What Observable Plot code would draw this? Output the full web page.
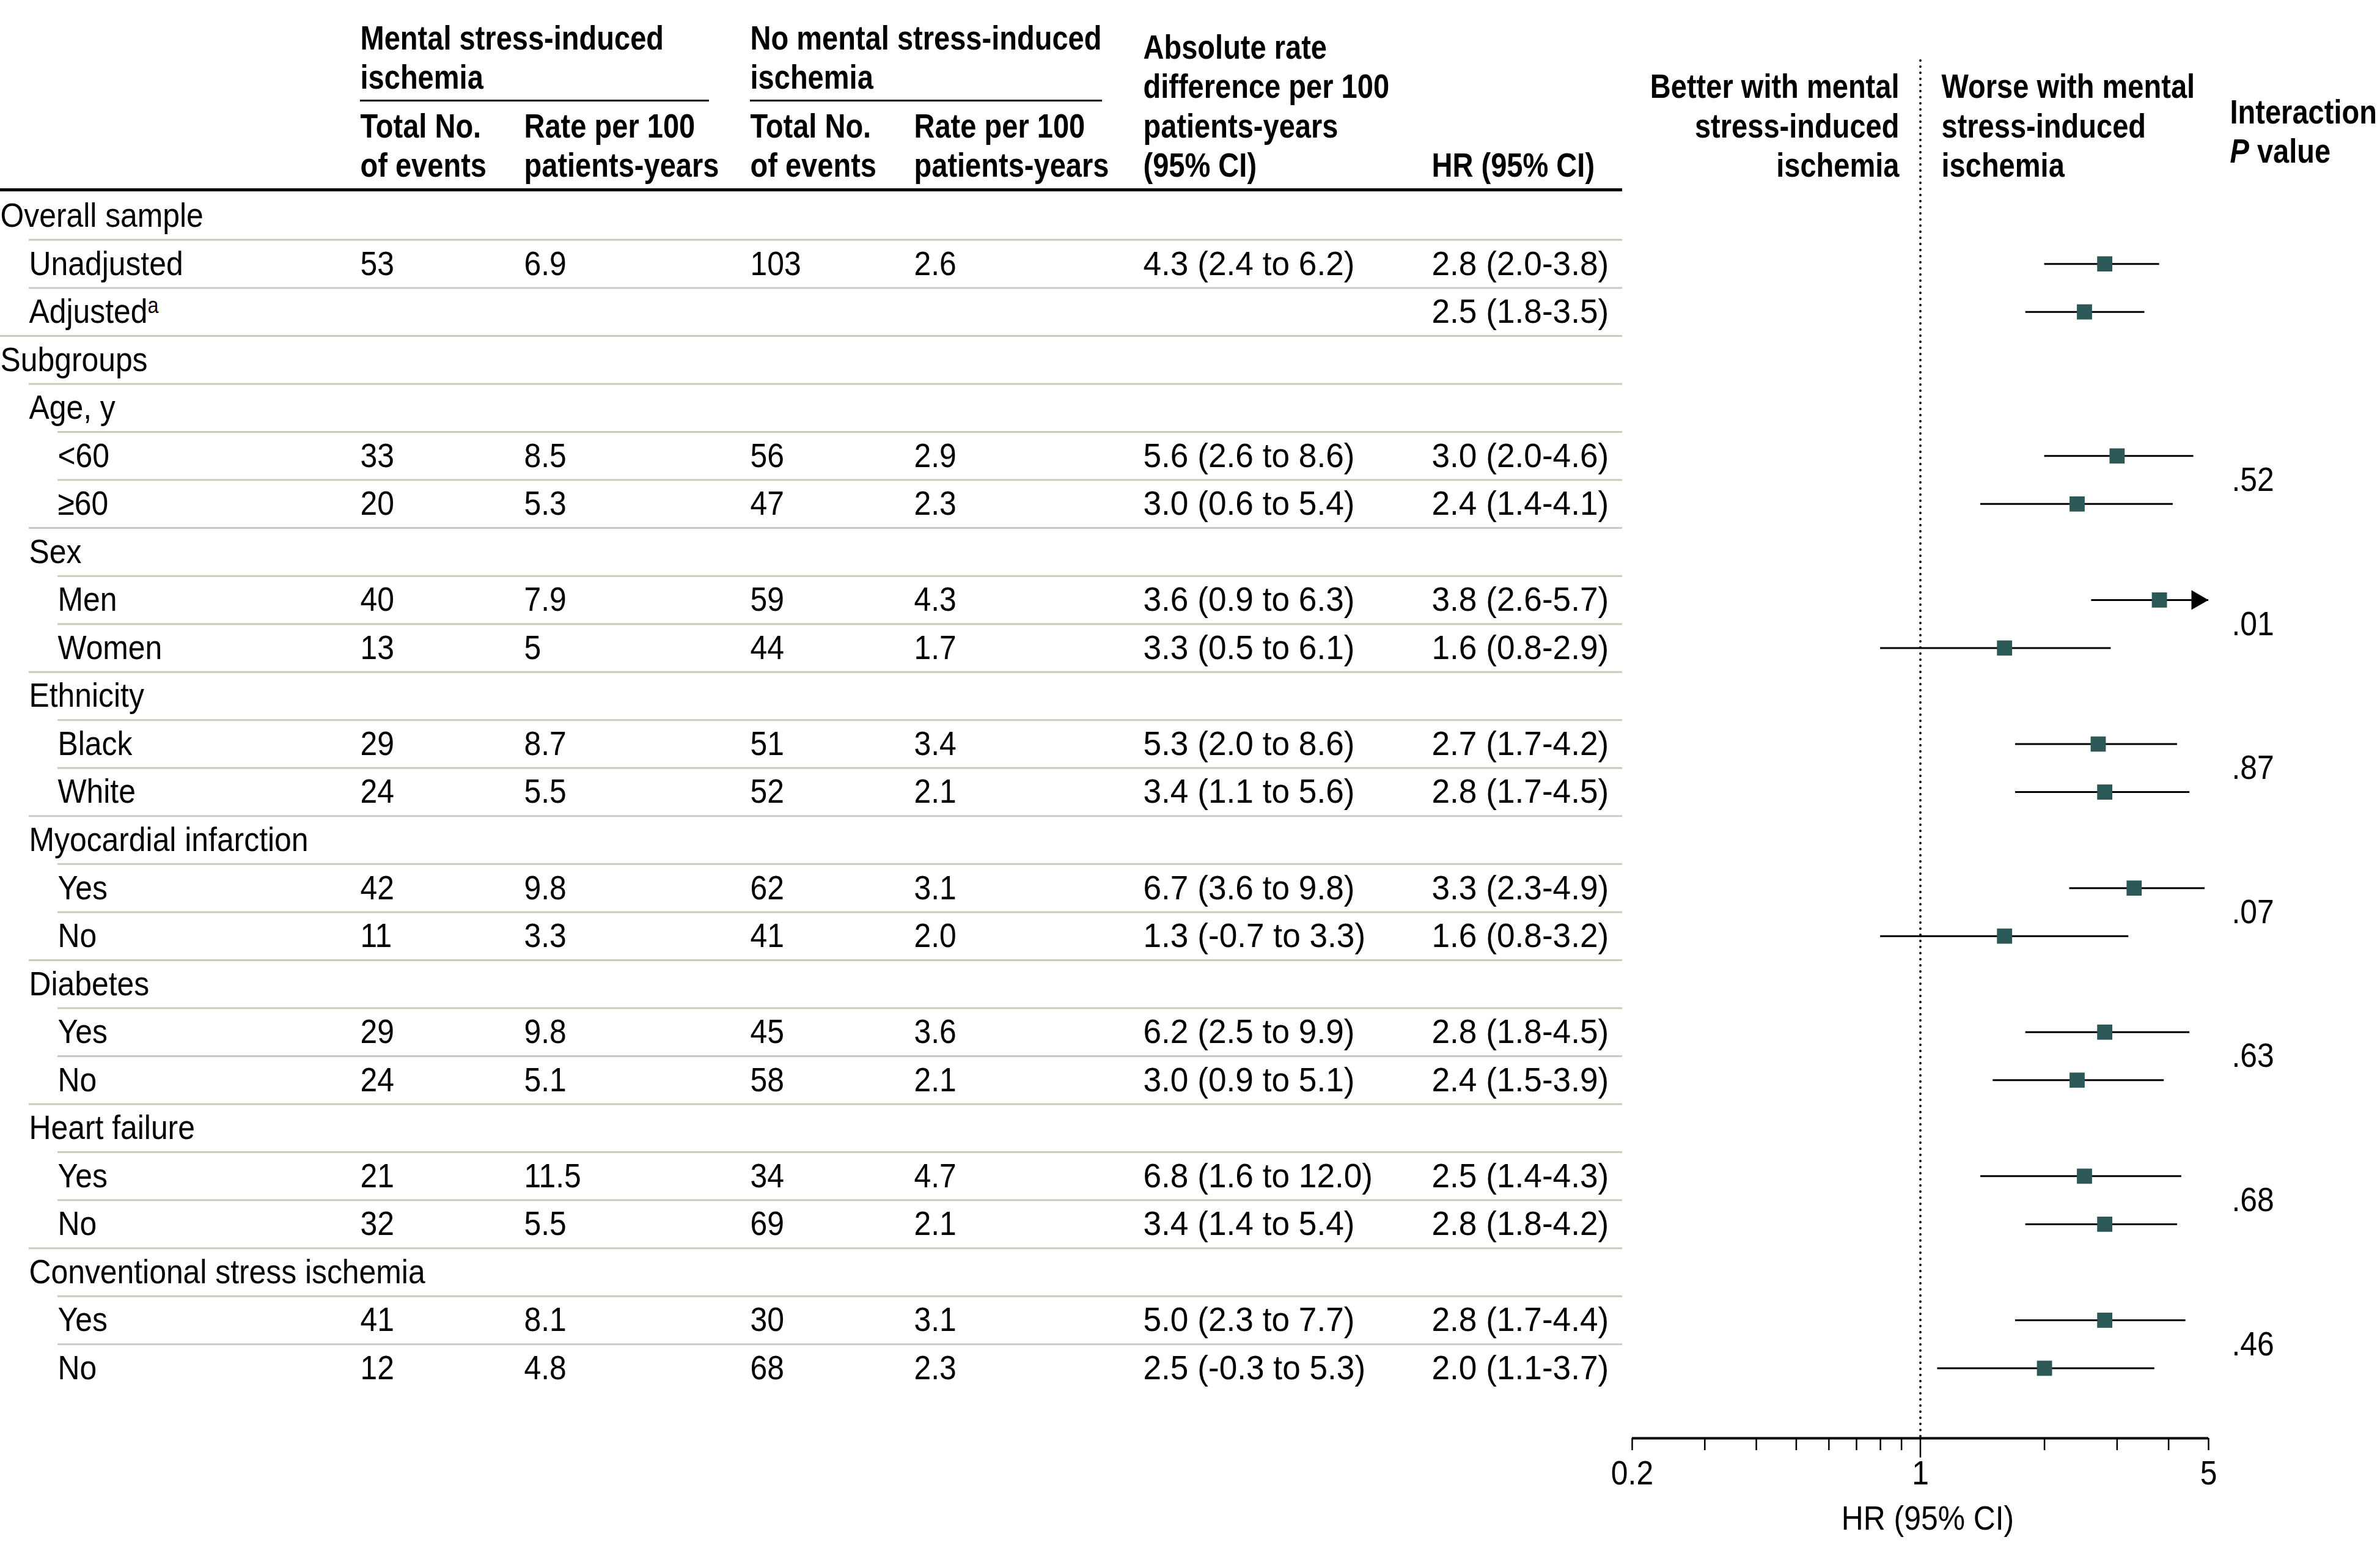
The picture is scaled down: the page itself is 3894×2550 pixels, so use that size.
<!DOCTYPE html>
<html>
<head>
<meta charset="utf-8">
<script src="https://cdn.jsdelivr.net/npm/d3@7"></script>
<script src="https://cdn.jsdelivr.net/npm/@observablehq/plot@0.6"></script>
<style>
  html, body { margin: 0; padding: 0; background: #fff; }
  #chart svg { display: block; }
</style>
</head>
<body>
<div id="chart"></div>
<script>
// ---------------- DATA ----------------
const rowLabels = ["Overall sample", "Unadjusted", "Adjusted", "Subgroups", "Age, y", "<60", "≥60",
  "Sex", "Men", "Women", "Ethnicity", "Black", "White", "Myocardial infarction", "Yes", "No",
  "Diabetes", "Yes", "No", "Heart failure", "Yes", "No", "Conventional stress ischemia", "Yes", "No"];
const rowLevels = [0, 1, 1, 0, 1, 2, 2, 1, 2, 2, 1, 2, 2, 1, 2, 2, 1, 2, 2, 1, 2, 2, 1, 2, 2];
const rowNotes = ["", "", "a", "", "", "", "", "", "", "", "", "", "", "", "", "", "", "", "", "", "", "", "", "", ""];

const msiEvents = [null, "53", null, null, null, "33", "20", null, "40", "13", null, "29", "24", null, "42", "11", null, "29", "24", null, "21", "32", null, "41", "12"];
const msiRates  = [null, "6.9", null, null, null, "8.5", "5.3", null, "7.9", "5", null, "8.7", "5.5", null, "9.8", "3.3", null, "9.8", "5.1", null, "11.5", "5.5", null, "8.1", "4.8"];
const noEvents  = [null, "103", null, null, null, "56", "47", null, "59", "44", null, "51", "52", null, "62", "41", null, "45", "58", null, "34", "69", null, "30", "68"];
const noRates   = [null, "2.6", null, null, null, "2.9", "2.3", null, "4.3", "1.7", null, "3.4", "2.1", null, "3.1", "2.0", null, "3.6", "2.1", null, "4.7", "2.1", null, "3.1", "2.3"];

const absDiff   = [null, 4.3, null, null, null, 5.6, 3.0, null, 3.6, 3.3, null, 5.3, 3.4, null, 6.7, 1.3, null, 6.2, 3.0, null, 6.8, 3.4, null, 5.0, 2.5];
const absLo     = [null, 2.4, null, null, null, 2.6, 0.6, null, 0.9, 0.5, null, 2.0, 1.1, null, 3.6, -0.7, null, 2.5, 0.9, null, 1.6, 1.4, null, 2.3, -0.3];
const absHi     = [null, 6.2, null, null, null, 8.6, 5.4, null, 6.3, 6.1, null, 8.6, 5.6, null, 9.8, 3.3, null, 9.9, 5.1, null, 12.0, 5.4, null, 7.7, 5.3];

const hr        = [null, 2.8, 2.5, null, null, 3.0, 2.4, null, 3.8, 1.6, null, 2.7, 2.8, null, 3.3, 1.6, null, 2.8, 2.4, null, 2.5, 2.8, null, 2.8, 2.0];
const hrLo      = [null, 2.0, 1.8, null, null, 2.0, 1.4, null, 2.6, 0.8, null, 1.7, 1.7, null, 2.3, 0.8, null, 1.8, 1.5, null, 1.4, 1.8, null, 1.7, 1.1];
const hrHi      = [null, 3.8, 3.5, null, null, 4.6, 4.1, null, 5.7, 2.9, null, 4.2, 4.5, null, 4.9, 3.2, null, 4.5, 3.9, null, 4.3, 4.2, null, 4.4, 3.7];

// interaction P values, attached to the first row of each subgroup pair
const pRows   = [5, 8, 11, 14, 17, 20, 23];
const pValues = [".52", ".01", ".87", ".07", ".63", ".68", ".46"];

const axisDomain = [0.2, 5];
const axisTicks  = [0.2, 0.3, 0.4, 0.5, 0.6, 0.7, 0.8, 0.9, 1, 2, 3, 4, 5];
const axisLabels = [0.2, 1, 5];
const axisTitle  = "HR (95% CI)";

const headerTexts = {
  msi: "Mental stress-induced\nischemia",
  noMsi: "No mental stress-induced\nischemia",
  total: "Total No.\nof events",
  rate: "Rate per 100\npatients-years",
  abs: "Absolute rate\ndifference per 100\npatients-years\n(95% CI)",
  hr: "HR (95% CI)",
  better: "Better with mental\nstress-induced\nischemia",
  worse: "Worse with mental\nstress-induced\nischemia",
  inter1: "Interaction",
  inter2: "P value"
};

// ---------------- LAYOUT ----------------
const W = 3894, H = 2550;
const FONT = 56;
const BODY_SX = 0.89, NUM_SX = 0.95, HEAD_SX = 0.84; // condensed look
const FAMILY = "'Liberation Sans', Arial, sans-serif";
const col = {l0: 0, l1: 47, l2: 94, msiN: 589, msiR: 857, noN: 1227, noR: 1495, abs: 1870, hr: 2342, p: 3651};
const tableRight = 2654;
const rowTop = 352.6, rowBottom = 2237.5;
const pitch = (rowBottom - rowTop) / (rowLabels.length - 1);
const xRange = [2670, 3613];
const axisY = 2352, tickLen = 20, refTickLen = 32;
const frameBottom = axisY + refTickLen;
const lh = 64.6 / FONT; // header line height in em
const baseOff = 0.32 * FONT; // centre -> baseline
const headRuleY = 310, underlineY = 164, refLineTop = 99;
const headerLayout = [
  {key: "msi", x: col.msiN, yLast: 127, anchor: "start"},
  {key: "noMsi", x: col.noN, yLast: 127, anchor: "start"},
  {key: "total", x: col.msiN, yLast: 271, anchor: "start"},
  {key: "rate", x: col.msiR, yLast: 271, anchor: "start"},
  {key: "total", x: col.noN, yLast: 271, anchor: "start"},
  {key: "rate", x: col.noR, yLast: 271, anchor: "start"},
  {key: "abs", x: col.abs, yLast: 271, anchor: "start"},
  {key: "hr", x: col.hr, yLast: 271, anchor: "start"},
  {key: "better", x: 3107, yLast: 271, anchor: "end"},
  {key: "worse", x: 3176, yLast: 271, anchor: "start"},
  {key: "inter1", x: 3648, yLast: 184, anchor: "start"},
  {key: "inter2", x: 3648, yLast: 248, anchor: "start"}
];

// ---------------- BUILD ----------------
const rows = rowLabels.map((label, i) => ({
  i, label, level: rowLevels[i],
  msiN: msiEvents[i], msiR: msiRates[i], noN: noEvents[i], noR: noRates[i],
  abs: absDiff[i] == null ? null : `${absDiff[i].toFixed(1)} (${absLo[i].toFixed(1)} to ${absHi[i].toFixed(1)})`,
  hr: hr[i], lo: hrLo[i], hi: hrHi[i],
  hrText: hr[i] == null ? null : `${hr[i].toFixed(1)} (${hrLo[i].toFixed(1)}-${hrHi[i].toFixed(1)})`
}));
const seps = rows.slice(0, -1).map(r => ({i: r.i, level: rows[r.i + 1].level}));
const hrRows = rows.filter(r => r.hr != null);
const pData = pRows.map((r, k) => ({i: r, p: pValues[k]}));

const txt = {frameAnchor: "left", textAnchor: "start", lineAnchor: "middle", fontSize: FONT, fill: "#000"};
const valueCols = ["msiN", "msiR", "noN", "noR", "abs"];

const marks = [
  // table separators
  ...[0, 1, 2].map(lv => Plot.ruleY(seps.filter(s => s.level === lv), {
    y: "i", dy: pitch / 2, insetLeft: col["l" + lv], insetRight: W - tableRight,
    stroke: "#c8ccbe", strokeWidth: 3
  })),
  // thick header rule
  Plot.ruleY([0], {y: d => d, dy: headRuleY - rowTop, insetRight: W - tableRight, stroke: "#000", strokeWidth: 5}),
  // group underlines
  Plot.ruleY([0], {y: d => d, dy: underlineY - rowTop, insetLeft: col.msiN, insetRight: W - 1160, stroke: "#000", strokeWidth: 3}),
  Plot.ruleY([0], {y: d => d, dy: underlineY - rowTop, insetLeft: col.noN, insetRight: W - 1803, stroke: "#000", strokeWidth: 3}),
  // headers
  ...headerLayout.map(h => Plot.text([headerTexts[h.key]], {
    text: d => d, frameAnchor: "top-left", dx: h.x, dy: h.yLast + baseOff,
    textAnchor: h.anchor, lineAnchor: "bottom", lineHeight: lh,
    fontSize: FONT, fontWeight: 700, fill: "#000"
  })),
  // row labels
  ...[0, 1, 2].map(lv => Plot.text(rows.filter(r => r.level === lv), {y: "i", text: "label", dx: col["l" + lv], ...txt})),
  // value columns
  ...valueCols.map(c => Plot.text(rows.filter(r => r[c] != null), {y: "i", text: c, dx: col[c], ...txt})),
  Plot.text(hrRows, {y: "i", text: "hrText", dx: col.hr, ...txt}),
  // P values
  Plot.text(pData, {y: "i", text: "p", dx: col.p, dy: pitch / 2, ...txt}),
  // reference line at HR = 1
  Plot.ruleX([1], {x: d => d, insetTop: refLineTop, insetBottom: refTickLen, stroke: "#000", strokeWidth: 4, strokeDasharray: "0,10", strokeLinecap: "round"}),
  // axis
  Plot.ruleY([rows.length - 1], {y: d => d, x1: () => axisDomain[0], x2: () => axisDomain[1], dy: axisY - rowBottom, stroke: "#000", strokeWidth: 4}),
  Plot.ruleX(axisTicks.filter(t => t !== 1), {x: d => d, insetTop: axisY, insetBottom: refTickLen - tickLen, stroke: "#000", strokeWidth: 2.5}),
  Plot.ruleX([1], {x: d => d, insetTop: axisY, stroke: "#000", strokeWidth: 2.5}),
  Plot.text(axisLabels, {x: d => d, text: d => String(d), frameAnchor: "bottom", lineAnchor: "middle", dy: 2410 - frameBottom, fontSize: FONT, fill: "#000"}),
  Plot.text([axisTitle], {x: () => 1, text: d => d, frameAnchor: "bottom", lineAnchor: "middle", dy: 2484 - frameBottom, dx: 12, fontSize: FONT, fill: "#000"}),
  // CIs
  Plot.ruleY(hrRows, {y: "i", x1: "lo", x2: d => Math.min(d.hi, axisDomain[1]), stroke: "#000", strokeWidth: 3}),
  Plot.dot(hrRows.filter(d => d.hi > axisDomain[1]), {
    y: "i", x: d => axisDomain[1], symbol: "triangle", rotate: 90, r: 12, fill: "#000", dx: -18.7
  }),
  Plot.dot(hrRows, {y: "i", x: "hr", symbol: "square", r: 14, fill: "#2c5957"})
];

const svg = Plot.plot({
  width: W, height: H,
  marginTop: 0, marginLeft: 0, marginRight: 0, marginBottom: H - frameBottom,
  style: {fontFamily: FAMILY, background: "#fff", color: "#000"},
  x: {type: "log", domain: axisDomain, range: xRange, axis: null},
  y: {type: "point", domain: rows.map(r => r.i), range: [rowTop, rowBottom], padding: 0, round: false, axis: null},
  marks
});

// superscripts / italics / condensed text
d3.select(svg).selectAll("text").each(function () {
  const raw = this.textContent;
  if (raw === "P value") {
    this.textContent = "";
    d3.select(this).append("tspan").attr("font-style", "italic").text("P");
    d3.select(this).append("tspan").text(" value");
  }
  const idx = rowLabels.indexOf(raw);
  if (idx >= 0 && rowNotes[idx]) {
    d3.select(this).append("tspan").attr("dy", "-0.45em").attr("font-size", "0.65em").text(rowNotes[idx]);
  }
  const g = this.parentNode;
  const bold = g && g.getAttribute && g.getAttribute("font-weight") === "700";
  const numeric = /^[-\d.() to]+$/.test(raw) && raw.includes("(");
  const sx = bold ? HEAD_SX : numeric ? NUM_SX : BODY_SX;
  const t = this.getAttribute("transform");
  if (t) {
    this.setAttribute("transform", `${t} scale(${sx},1)`);
  } else {
    const x = +(this.getAttribute("x") || 0);
    this.removeAttribute("x");
    this.setAttribute("transform", `translate(${x},0) scale(${sx},1)`);
  }
});

document.getElementById("chart").appendChild(svg);
</script>
</body>
</html>
